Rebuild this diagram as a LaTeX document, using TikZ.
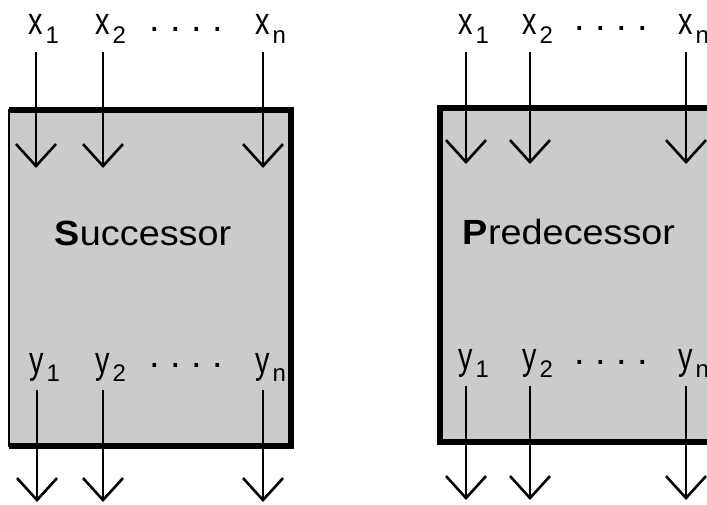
\documentclass[tikz,border=0pt]{standalone}
\usepackage{fontspec}
\setmainfont{Liberation Sans}
\usetikzlibrary{arrows.meta}
\definecolor{boxgray}{HTML}{CBCBCB}

\newcommand{\letr}[1]{\scalebox{0.76}[1]{\vphantom{y}#1}}
\newcommand{\dotrow}{.\hspace{10.4pt}.\hspace{10.4pt}.\hspace{10.4pt}.}
\newcommand{\boxname}[2]{\scalebox{1.08}[1]{\fontsize{35}{35}\selectfont\textbf{#1}#2}}

\begin{document}
\begin{tikzpicture}[x=1pt, y=-1pt,
    every node/.style={inner sep=0pt, font=\fontsize{38}{38}\selectfont},
    sub/.style={inner sep=0pt, font=\fontsize{24}{24}\selectfont, xshift=2pt, yshift=9.5pt},
    sig/.style={anchor=base, label={[sub]below right:\vphantom{1}#1}},
    flow/.style={line width=2.6pt, shorten <=9pt, -{Straight Barb[length=22pt,width=40pt]}},
    rim/.style={line width=5.5pt}]
  \useasboundingbox (0,0) rectangle (707,505);

  % successor block
  \fill[boxgray, draw=black, line width=1.5pt] (9,110) rectangle (291,446);
  \draw[rim] (9,110) -- (291,110) -- (291,446) -- (9,446);
  \node (sname) at (143,246) [anchor=base] {\boxname{S}{uccessor}};

  \node[sig=1] (sx1) at (36,35) {\letr{x}};
  \node[sig=2] (sx2) at (103,35) {\letr{x}};
  \node[sig=n] (sxn) at (263,35) {\letr{x}};
  \node (sxdots) at (186,29) {\dotrow};
  \coordinate (sx1tip) at (36,168);
  \coordinate (sx2tip) at (103,168);
  \coordinate (sxntip) at (263,168);
  \draw[flow] (sx1.south) -- (sx1tip);
  \draw[flow] (sx2.south) -- (sx2tip);
  \draw[flow] (sxn.south) -- (sxntip);

  \node[sig=1] (sy1) at (37,373) {\letr{y}};
  \node[sig=2] (sy2) at (103,373) {\letr{y}};
  \node[sig=n] (syn) at (263,373) {\letr{y}};
  \node (sydots) at (186,365) {\dotrow};
  \coordinate (sy1tip) at (37,502);
  \coordinate (sy2tip) at (103,502);
  \coordinate (syntip) at (263,502);
  \draw[flow] (sy1.south) -- (sy1tip);
  \draw[flow] (sy2.south) -- (sy2tip);
  \draw[flow] (syn.south) -- (syntip);

  % predecessor block
  \fill[boxgray] (440,108) rectangle (720,442);
  \draw[rim] (720,108) -- (440,108) -- (440,442) -- (720,442);
  \node (pname) at (569,245) [anchor=base] {\boxname{P}{redecessor}};

  \node[sig=1] (px1) at (466,34.5) {\letr{x}};
  \node[sig=2] (px2) at (530,34.5) {\letr{x}};
  \node[sig=n] (pxn) at (686,34.5) {\letr{x}};
  \node (pxdots) at (611,28) {\dotrow};
  \coordinate (px1tip) at (466,164);
  \coordinate (px2tip) at (530,164);
  \coordinate (pxntip) at (686,164);
  \draw[flow] (px1.south) -- (px1tip);
  \draw[flow] (px2.south) -- (px2tip);
  \draw[flow] (pxn.south) -- (pxntip);

  \node[sig=1] (py1) at (466,369) {\letr{y}};
  \node[sig=2] (py2) at (530,369) {\letr{y}};
  \node[sig=n] (pyn) at (686,369) {\letr{y}};
  \node (pydots) at (611,362) {\dotrow};
  \coordinate (py1tip) at (466,500);
  \coordinate (py2tip) at (530,500);
  \coordinate (pyntip) at (686,500);
  \draw[flow] (py1.south) -- (py1tip);
  \draw[flow] (py2.south) -- (py2tip);
  \draw[flow] (pyn.south) -- (pyntip);
\end{tikzpicture}
\end{document}
